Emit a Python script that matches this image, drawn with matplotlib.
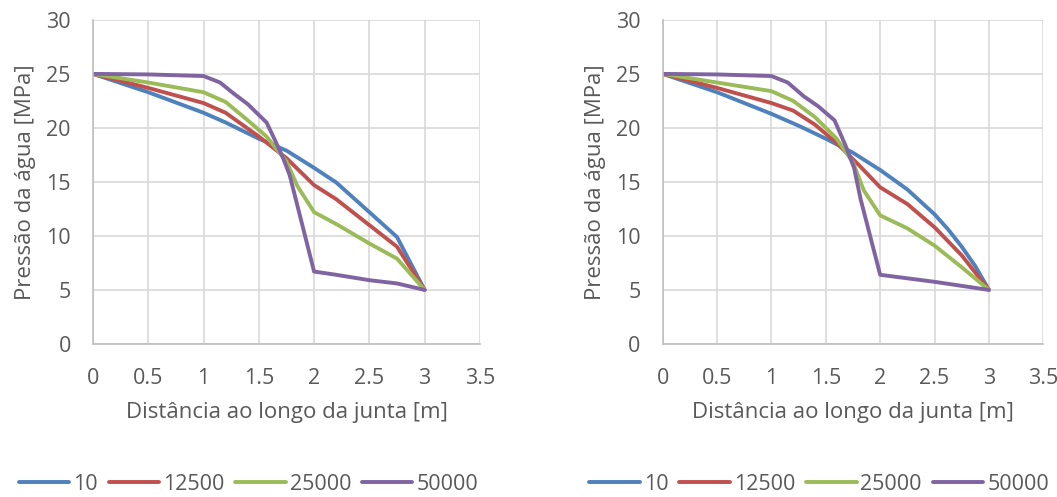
import matplotlib.pyplot as plt

plt.rcParams['font.family'] = ['Open Sans', 'DejaVu Sans']

series_names = ['10', '12500', '25000', '50000']
colors = ['#4F81BD', '#C0504D', '#9BBB59', '#8064A2']

# painel esquerdo
left_x = [
    [0, 0.5, 1, 1.2, 1.5, 1.75, 2, 2.2, 2.5, 2.75, 3],
    [0, 0.5, 1, 1.2, 1.5, 1.75, 2, 2.2, 2.5, 2.75, 3],
    [0, 0.5, 1, 1.2, 1.4, 1.57, 1.75, 1.85, 2, 2.2, 2.5, 2.75, 3],
    [0, 0.5, 1, 1.15, 1.27, 1.4, 1.57, 1.64, 1.72, 1.78, 2, 2.2, 2.5, 2.75, 3],
]
left_y = [
    [25, 23.3, 21.4, 20.5, 19.0, 17.9, 16.3, 14.95, 12.2, 9.9, 5],
    [25, 23.7, 22.3, 21.4, 19.2, 17.2, 14.7, 13.4, 11.0, 9.0, 5],
    [25, 24.2, 23.3, 22.4, 20.7, 19.2, 16.9, 14.6, 12.2, 11.1, 9.3, 7.9, 5],
    [25, 24.95, 24.8, 24.2, 23.2, 22.2, 20.5, 19.0, 17.2, 15.6, 6.7, 6.4, 5.9, 5.6, 5],
]

# painel direito
right_x = [
    [0, 0.5, 1, 1.25, 1.5, 1.75, 2, 2.25, 2.5, 2.625, 2.75, 2.875, 3],
    [0, 0.5, 1, 1.2, 1.4, 1.6, 1.8, 2, 2.25, 2.5, 2.75, 3],
    [0, 0.5, 1, 1.2, 1.4, 1.6, 1.75, 1.85, 2, 2.25, 2.5, 2.75, 3],
    [0, 0.5, 1, 1.15, 1.3, 1.43, 1.58, 1.68, 1.76, 1.82, 2, 2.5, 3],
]
right_y = [
    [25, 23.3, 21.3, 20.2, 19.0, 17.7, 16.1, 14.3, 12.0, 10.6, 9.0, 7.2, 5],
    [25, 23.7, 22.3, 21.6, 20.3, 18.6, 16.6, 14.5, 12.95, 10.8, 8.2, 5],
    [25, 24.2, 23.4, 22.5, 21.0, 19.0, 16.8, 14.2, 11.9, 10.7, 9.1, 7.1, 5],
    [25, 24.95, 24.8, 24.2, 22.9, 22.0, 20.7, 18.4, 16.3, 13.4, 6.4, 5.75, 5],
]

xticks = [0, 0.5, 1, 1.5, 2, 2.5, 3, 3.5]
yticks = [0, 5, 10, 15, 20, 25, 30]

fig = plt.figure(figsize=(10.57, 4.97), dpi=100)
ax1 = fig.add_axes([0.088, 0.308, 0.366, 0.652])
ax2 = fig.add_axes([0.627, 0.308, 0.360, 0.652])

text_color = '#595959'
for ax, xs, ys, leg_x in [(ax1, left_x, left_y, 0.235), (ax2, right_x, right_y, 0.775)]:
    lines = []
    for x, y, c, name in zip(xs, ys, colors, series_names):
        ln, = ax.plot(x, y, color=c, lw=2.8, label=name, solid_capstyle='round')
        lines.append(ln)
    ax.set_xlim(0, 3.5)
    ax.set_ylim(0, 30)
    ax.set_xticks(xticks)
    ax.set_xticklabels(['0', '0.5', '1', '1.5', '2', '2.5', '3', '3.5'])
    ax.set_yticks(yticks)
    ax.grid(True, color='#D9D9D9', lw=1.2)
    ax.set_axisbelow(True)
    for s in ['top', 'right']:
        ax.spines[s].set_visible(False)
    for s in ['left', 'bottom']:
        ax.spines[s].set_color('#BFBFBF')
        ax.spines[s].set_linewidth(1.2)
    ax.tick_params(length=0, labelsize=15.5, labelcolor=text_color)
    ax.tick_params(axis='x', pad=17)
    ax.tick_params(axis='y', pad=16)
    ax.set_xlabel('Distância ao longo da junta [m]', fontsize=16, color=text_color, labelpad=10)
    ax.set_ylabel('Pressão da água [MPa]', fontsize=16, color=text_color, labelpad=7)
    fig.legend(handles=lines, loc='center', bbox_to_anchor=(leg_x, 0.026), ncol=4,
               frameon=False, fontsize=15.5, handlelength=2.35, handletextpad=0.18,
               columnspacing=0.5, labelcolor=text_color)

fig.savefig('out.png', dpi=100)
